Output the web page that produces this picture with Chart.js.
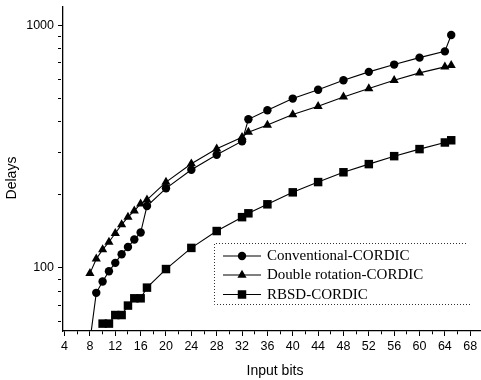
<!DOCTYPE html>
<html><head><meta charset="utf-8">
<script src="https://cdn.jsdelivr.net/npm/chart.js@4/dist/chart.umd.min.js"></script>
<style>html,body{margin:0;padding:0;background:#fff}#wrap{width:481px;height:380px;position:relative}</style>
</head><body><div id="wrap"><canvas id="c"></canvas></div>
<script>
const seriesNames = ['Conventional-CORDIC', 'Double rotation-CORDIC', 'RBSD-CORDIC'];

const convBits   = [8, 9, 10, 11, 12, 13, 14, 15, 16, 17, 20, 24, 28, 32, 33, 36, 40, 44, 48, 52, 56, 60, 64, 65];
const convDelays = [50, 79, 88, 97, 105, 114, 122, 131, 140, 180, 213, 254, 293, 333, 410, 447, 499, 543, 594, 643, 689, 736, 781, 912];

const dblBits   = [8, 9, 10, 11, 12, 13, 14, 15, 16, 17, 20, 24, 28, 32, 33, 36, 40, 44, 48, 52, 56, 60, 64, 65];
const dblDelays = [95, 109, 119, 128, 139, 151, 162, 172, 184, 191, 226, 269, 310, 346, 363, 388, 429, 464, 507, 549, 594, 637, 674, 684];

const rbsdBits   = [10, 11, 12, 13, 14, 15, 16, 17, 20, 24, 28, 32, 33, 36, 40, 44, 48, 52, 56, 60, 64, 65];
const rbsdDelays = [59, 59, 64, 64, 70, 75, 75, 83, 99, 121, 142, 162, 168, 183, 205, 226, 248, 268, 289, 309, 329, 336];

const xTickLabels = [4, 8, 12, 16, 20, 24, 28, 32, 36, 40, 44, 48, 52, 56, 60, 64, 68];
const yTickLabels = [100, 1000];
const yMinorTicks = [60, 70, 80, 90, 200, 300, 400, 500, 600, 700, 800, 900];

const xTickValues = [];
for (let i = 0; i < xTickLabels.length; i++) {
  xTickValues.push(xTickLabels[i]);
  if (i < xTickLabels.length - 1) xTickValues.push((xTickLabels[i] + xTickLabels[i + 1]) / 2);
}
const yTickValues = yMinorTicks.concat(yTickLabels).sort((a, b) => a - b);

function pts(xs, ys) { return xs.map((x, i) => ({ x: x, y: ys[i] })); }

const styles = [
  { pointStyle: 'circle', radius: 4.2 },
  { pointStyle: 'triangle', radius: 5.3 },
  { pointStyle: 'rect', radius: 6 }
];

function drawMarker(ctx, style, r, x, y) {
  ctx.beginPath();
  if (style === 'circle') {
    ctx.arc(x, y, r, 0, Math.PI * 2);
  } else if (style === 'triangle') {
    ctx.moveTo(x, y - r);
    ctx.lineTo(x + r * Math.sin(2 * Math.PI / 3), y - r * Math.cos(2 * Math.PI / 3));
    ctx.lineTo(x + r * Math.sin(4 * Math.PI / 3), y - r * Math.cos(4 * Math.PI / 3));
    ctx.closePath();
  } else {
    const s = r * Math.SQRT1_2;
    ctx.rect(x - s, y - s, 2 * s, 2 * s);
  }
  ctx.fill();
}

const boxLegend = {
  id: 'boxLegend',
  afterDraw(chart) {
    const ctx = chart.ctx;
    ctx.save();
    ctx.setLineDash([1, 2]);
    ctx.strokeStyle = '#333';
    ctx.lineWidth = 1;
    ctx.beginPath();
    ctx.moveTo(466, 243.5); ctx.lineTo(214.5, 243.5); ctx.lineTo(214.5, 304.5); ctx.lineTo(470, 304.5);
    ctx.stroke();
    ctx.setLineDash([]);
    const rows = [256, 275, 294.5];
    chart.data.datasets.forEach((ds, i) => {
      const y = rows[i];
      ctx.strokeStyle = '#000'; ctx.lineWidth = 1.2;
      ctx.beginPath(); ctx.moveTo(223, y); ctx.lineTo(261, y); ctx.stroke();
      ctx.fillStyle = '#000';
      drawMarker(ctx, styles[i].pointStyle, styles[i].radius, 242, y);
      ctx.font = '15px "Liberation Serif", "Times New Roman", serif';
      ctx.textBaseline = 'middle';
      ctx.textAlign = 'left';
      ctx.fillText(ds.label, 267, y + 0.5);
    });
    ctx.font = '14px "Liberation Sans", Arial, sans-serif';
    ctx.textAlign = 'center';
    ctx.textBaseline = 'middle';
    ctx.fillText('Input bits', 275, 371);
    ctx.translate(12, 178);
    ctx.rotate(-Math.PI / 2);
    ctx.fillText('Delays', 0, 0);
    ctx.restore();
  }
};

const tickFont = { family: '"Liberation Sans", Arial, sans-serif', size: 12.5 };

new Chart(document.getElementById('c'), {
  type: 'line',
  data: {
    datasets: [
      { label: seriesNames[0], data: pts(convBits, convDelays) },
      { label: seriesNames[1], data: pts(dblBits, dblDelays) },
      { label: seriesNames[2], data: pts(rbsdBits, rbsdDelays) }
    ].map((d, i) => Object.assign(d, {
      borderColor: '#000', borderWidth: 1.1, backgroundColor: '#000',
      pointStyle: styles[i].pointStyle, pointRadius: styles[i].radius,
      pointBackgroundColor: '#000', pointBorderColor: '#000', pointBorderWidth: 0,
      tension: 0, fill: false
    }))
  },
  options: {
    responsive: true, maintainAspectRatio: false, animation: false, events: [],
    layout: { autoPadding: false, padding: { top: 7, right: 0, left: 0, bottom: 0 } },
    plugins: { legend: { display: false }, tooltip: { enabled: false }, title: { display: false } },
    scales: {
      x: {
        type: 'linear', min: 3.75, max: 69.7,
        afterBuildTicks: a => { a.ticks = xTickValues.map(v => ({ value: v })); },
        afterFit: s => { s.height = 49; s.paddingLeft = 0; s.paddingRight = 0; },
        ticks: {
          autoSkip: false, maxRotation: 0, minRotation: 0, padding: 3,
          color: '#000', font: tickFont,
          callback: v => xTickLabels.includes(v) ? String(v) : ''
        },
        grid: {
          drawOnChartArea: false, tickLength: 5, tickColor: '#000', tickWidth: 1,
          tickBorderDash: c => (c.tick && xTickLabels.includes(c.tick.value)) ? [] : [3, 10]
        },
        border: { color: '#000', width: 1.3 }
      },
      y: {
        type: 'logarithmic', min: 55, max: 1190,
        afterBuildTicks: a => { a.ticks = yTickValues.map(v => ({ value: v })); },
        afterFit: s => { s.width = 63; s.paddingTop = 0; s.paddingBottom = 0; },
        ticks: {
          autoSkip: false, padding: 4, color: '#000', font: tickFont,
          callback: v => yTickLabels.includes(v) ? String(v) : ''
        },
        grid: {
          drawOnChartArea: false, tickLength: 5, tickColor: '#000', tickWidth: 1,
          tickBorderDash: c => (c.tick && yTickLabels.includes(c.tick.value)) ? [] : [3, 10]
        },
        border: { color: '#000', width: 1.3 }
      }
    }
  },
  plugins: [boxLegend]
});
</script>
</body></html>
